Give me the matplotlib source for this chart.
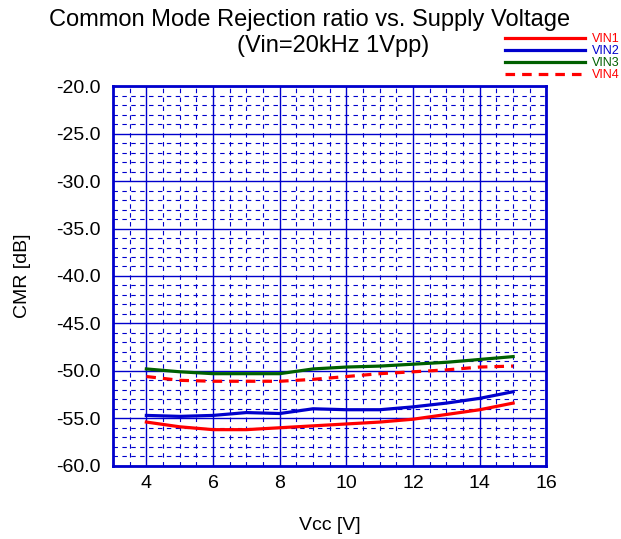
import numpy as np
import matplotlib
matplotlib.use('Agg')
import matplotlib.pyplot as plt
from matplotlib.ticker import MultipleLocator, FormatStrFormatter

plt.rcParams['font.family'] = ['Liberation Sans', 'DejaVu Sans']

# Valeurs
vcc = [4, 5, 6, 7, 8, 9, 10, 11, 12, 13, 14, 15]
vin1 = [-55.4, -55.9, -56.2, -56.2, -56.0, -55.8, -55.6, -55.4, -55.1, -54.6, -54.1, -53.4]
vin2 = [-54.7, -54.8, -54.7, -54.4, -54.5, -54.0, -54.1, -54.1, -53.8, -53.4, -52.9, -52.2]
vin3 = [-49.8, -50.1, -50.3, -50.3, -50.3, -49.8, -49.6, -49.5, -49.3, -49.1, -48.8, -48.5]
vin4 = [-50.6, -51.0, -51.1, -51.1, -51.1, -50.9, -50.6, -50.3, -50.1, -49.9, -49.6, -49.5]
labels = ['VIN1', 'VIN2', 'VIN3', 'VIN4']
colors = ['#ff0000', '#0000cc', '#006000', '#ff0000']

fig = plt.figure(figsize=(6.21, 5.39), dpi=100)
ax = fig.add_axes([0.182, 0.136, 0.698, 0.704])

grid_col = '#0000cc'
ax.set_xlim(3, 16)
ax.set_ylim(-60, -20)
ax.xaxis.set_major_locator(MultipleLocator(2))
ax.xaxis.set_minor_locator(MultipleLocator(0.5))
ax.yaxis.set_major_locator(MultipleLocator(5))
ax.yaxis.set_minor_locator(MultipleLocator(1))
ax.yaxis.set_major_formatter(FormatStrFormatter('%.1f'))
ax.grid(which='major', color=grid_col, lw=1.0, ls='-')
ax.grid(which='minor', color=grid_col, lw=0.8, ls=(0, (4, 4)))
ax.set_axisbelow(True)
for s in ax.spines.values():
    s.set_color(grid_col)
    s.set_linewidth(2)
ax.tick_params(which='both', length=0, labelsize=14)
ax.tick_params(axis='y', pad=9)
ax.tick_params(axis='x', pad=7)

series = [vin1, vin2, vin3, vin4]
lines = []
for i in range(4):
    l, = ax.plot(vcc, series[i], color=colors[i], lw=2.3)
    if i == 3:
        l.set_dashes((3, 2.2))
    lines.append(l)

ax.set_xlabel('Vcc [V]', fontsize=14, labelpad=18)
ax.set_ylabel('CMR [dB]', fontsize=14, labelpad=18)

# titre sur deux lignes, decalees comme sur l'original
fig.text(0.499, 1 - 26 / 539, 'Common Mode Rejection ratio vs. Supply Voltage',
         ha='center', va='baseline', fontsize=17)
fig.text(0.536, 1 - 52 / 539, '(Vin=20kHz 1Vpp)',
         ha='center', va='baseline', fontsize=17)

leg = fig.legend(lines, labels, loc='upper right', bbox_to_anchor=(0.998, 0.939),
                 frameon=False, fontsize=9, handlelength=6.4, handletextpad=0.6,
                 labelspacing=0.0, borderaxespad=0, borderpad=0)
for t, c in zip(leg.get_texts(), colors):
    t.set_color(c)

fig.savefig('out.png', dpi=100)
